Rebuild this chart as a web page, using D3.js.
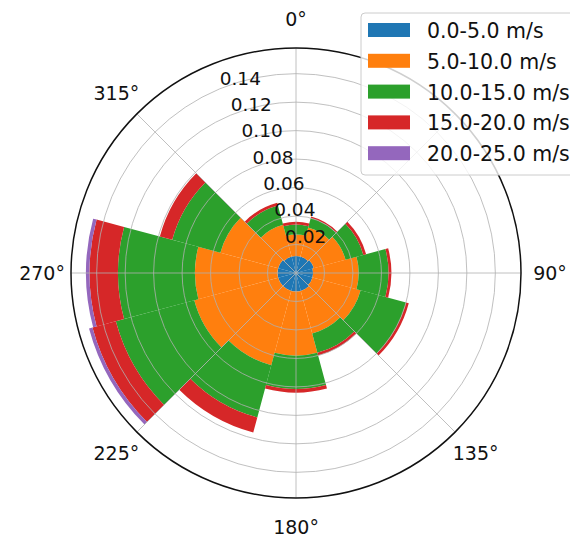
<!DOCTYPE html>
<html>
<head>
<meta charset="utf-8">
<script src="https://cdn.jsdelivr.net/npm/d3@7"></script>
<style>
  html, body { margin: 0; padding: 0; background: #fff; }
  svg { display: block; font-family: "DejaVu Sans", sans-serif; }
</style>
</head>
<body>
<svg id="chart" width="570" height="539"></svg>
<script>
// Wind direction sectors (degrees, clockwise from north)
const directions = [0, 30, 60, 90, 120, 150, 180, 210, 240, 270, 300, 330];

// Speed bins
const speedBins = ["0.0-5.0 m/s", "5.0-10.0 m/s", "10.0-15.0 m/s", "15.0-20.0 m/s", "20.0-25.0 m/s"];

// Frequency of each speed bin per direction sector
const freq0to5   = [0.012, 0.012, 0.013, 0.012, 0.012, 0.013, 0.013, 0.013, 0.013, 0.013, 0.013, 0.012];
const freq5to10  = [0.015, 0.021, 0.023, 0.032, 0.035, 0.031, 0.045, 0.054, 0.061, 0.058, 0.042, 0.023];
const freq10to15 = [0.007, 0.007, 0.013, 0.021, 0.033, 0.014, 0.0235, 0.038, 0.057, 0.054, 0.035, 0.014];
const freq15to20 = [0.002, 0.001, 0.002, 0.002, 0.002, 0.002, 0.0025, 0.011, 0.017, 0.020, 0.009, 0.002];
const freq20to25 = [0, 0, 0, 0, 0, 0, 0, 0, 0.0025, 0.0025, 0, 0];

const binColors = ["#1f77b4", "#ff7f0e", "#2ca02c", "#d62728", "#9467bd"];

// Radial ticks and angular ticks
const radialTicks = [0.02, 0.04, 0.06, 0.08, 0.10, 0.12, 0.14];
const radialTickLabels = ["0.02", "0.04", "0.06", "0.08", "0.10", "0.12", "0.14"];
const angleTicks = [0, 45, 90, 135, 180, 225, 270, 315];
const angleTickLabels = ["0°", "45°", "90°", "135°", "180°", "225°", "270°", "315°"];

// ---- layout ----
const cx = 296, cy = 273, outerR = 225;
const sectorWidth = 30;
const rlabelAngle = -22.5;
const labelR = 254;
const legendBox = { x: 361, y: 13, w: 230, h: 162 };
const toRad = d => d * Math.PI / 180;

const svg = d3.select("#chart");
const g = svg.append("g").attr("transform", `translate(${cx},${cy})`);

// Build table and stack it
const series = [freq0to5, freq5to10, freq10to15, freq15to20, freq20to25];
const table = directions.map((dir, i) => {
  const row = { dir };
  speedBins.forEach((b, j) => row[b] = series[j][i]);
  return row;
});
const stacked = d3.stack().keys(speedBins)(table);

const maxTotal = d3.max(stacked[stacked.length - 1], d => d[1]);
const r = d3.scaleLinear().domain([0, maxTotal * 1.05]).range([0, outerR]);
const color = d3.scaleOrdinal().domain(speedBins).range(binColors);

// Bars
const arc = d3.arc()
  .innerRadius(d => r(d[0]))
  .outerRadius(d => r(d[1]))
  .startAngle(d => toRad(d.data.dir - sectorWidth / 2))
  .endAngle(d => toRad(d.data.dir + sectorWidth / 2));

g.selectAll("g.layer")
  .data(stacked)
  .join("g")
  .attr("class", "layer")
  .attr("fill", d => color(d.key))
  .selectAll("path")
  .data(d => d.filter(v => v[1] - v[0] > 0))
  .join("path")
  .attr("d", arc);

// Grid: circles and spokes
const grid = g.append("g").attr("fill", "none").attr("stroke", "#b0b0b0").attr("stroke-width", 0.8);
grid.selectAll("circle")
  .data(radialTicks)
  .join("circle")
  .attr("r", d => r(d));
grid.selectAll("line")
  .data(angleTicks)
  .join("line")
  .attr("x1", 0).attr("y1", 0)
  .attr("x2", d => outerR * Math.sin(toRad(d)))
  .attr("y2", d => -outerR * Math.cos(toRad(d)));

// Outer frame
g.append("circle")
  .attr("r", outerR)
  .attr("fill", "none")
  .attr("stroke", "#111")
  .attr("stroke-width", 1.5);

// Radial tick labels
g.append("g").selectAll("text")
  .data(radialTicks)
  .join("text")
  .attr("x", d => r(d) * Math.sin(toRad(rlabelAngle)))
  .attr("y", d => -r(d) * Math.cos(toRad(rlabelAngle)) - 4)
  .attr("text-anchor", "start")
  .attr("font-size", 18.5)
  .attr("fill", "#111")
  .text((d, i) => radialTickLabels[i]);

// Angular tick labels (a label sitting under the legend stays hidden)
const underLegend = d => {
  const x = cx + labelR * Math.sin(toRad(d));
  const y = cy - labelR * Math.cos(toRad(d));
  return x > legendBox.x && y > legendBox.y && y < legendBox.y + legendBox.h;
};
g.append("g").selectAll("text")
  .data(angleTicks.map((d, i) => ({ d, label: angleTickLabels[i] })).filter(t => !underLegend(t.d)))
  .join("text")
  .attr("x", t => labelR * Math.sin(toRad(t.d)))
  .attr("y", t => -labelR * Math.cos(toRad(t.d)))
  .attr("text-anchor", "middle")
  .attr("dominant-baseline", "central")
  .attr("font-size", 19)
  .attr("fill", "#111")
  .text(t => t.label);

// Legend
const legend = svg.append("g").attr("transform", `translate(${legendBox.x},${legendBox.y})`);
legend.append("rect")
  .attr("x", 0).attr("y", 0)
  .attr("width", legendBox.w).attr("height", legendBox.h)
  .attr("rx", 4)
  .attr("fill", "#fff").attr("fill-opacity", 0.8)
  .attr("stroke", "#cccccc");
const rows = legend.selectAll("g.item")
  .data(speedBins)
  .join("g")
  .attr("class", "item")
  .attr("transform", (d, i) => `translate(0,${17 + i * 30.8})`);
rows.append("rect")
  .attr("x", 7).attr("y", -7)
  .attr("width", 42).attr("height", 14)
  .attr("fill", d => color(d));
rows.append("text")
  .attr("x", 66).attr("y", 1)
  .attr("dominant-baseline", "central")
  .attr("font-size", 20.5)
  .attr("fill", "#111")
  .text(d => d);
</script>
</body>
</html>
